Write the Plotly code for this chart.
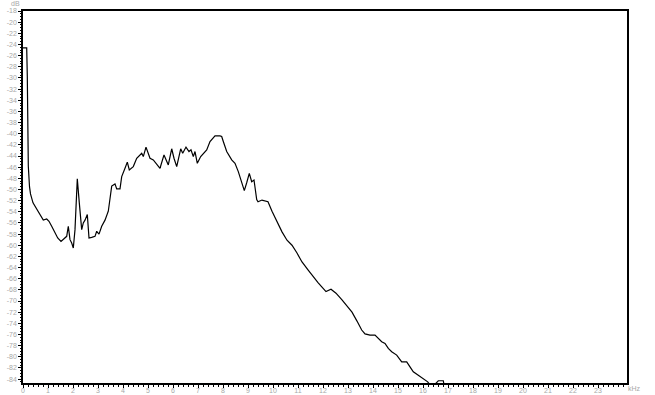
import plotly.graph_objects as go

freq_khz = [0.00, 0.148, 0.172, 0.188, 0.212, 0.26, 0.30, 0.40, 0.548, 0.68, 0.812, 0.948, 1.04, 1.148,
            1.28, 1.388, 1.52, 1.652, 1.748, 1.812, 1.88, 1.948, 2.012, 2.08, 2.148, 2.172, 2.252, 2.348,
            2.412, 2.48, 2.572, 2.64, 2.748, 2.88, 2.948, 3.04, 3.148, 3.28, 3.412, 3.48, 3.548, 3.68,
            3.748, 3.88, 3.948, 4.08, 4.172, 4.252, 4.412, 4.548, 4.748, 4.812, 4.92, 5.08, 5.212, 5.48,
            5.64, 5.812, 5.948, 6.04, 6.148, 6.308, 6.388, 6.52, 6.64, 6.72, 6.812, 6.88, 6.972, 7.108,
            7.212, 7.348, 7.48, 7.68, 7.88, 7.948, 8.012, 8.148, 8.348, 8.48, 8.612, 8.748, 8.852, 8.948,
            9.052, 9.148, 9.24, 9.348, 9.40, 9.56, 9.80, 9.96, 10.16, 10.36, 10.56, 10.76, 10.96, 11.16,
            11.40, 11.60, 11.80, 11.96, 12.12, 12.32, 12.52, 12.76, 12.96, 13.16, 13.36, 13.548, 13.68,
            13.88, 14.08, 14.212, 14.348, 14.48, 14.612, 14.748, 14.948, 15.148, 15.348, 15.48, 15.612,
            15.812, 16.012, 16.188, 16.36, 16.56, 16.612, 16.812, 16.88]

level_db = [-24.6, -24.6, -29.7, -39.3, -45.8, -49.5, -50.8, -52.4, -53.6, -54.5, -55.5, -55.3, -55.7, -56.6,
            -57.8, -58.7, -59.3, -58.8, -58.4, -56.6, -59.0, -59.6, -60.5, -57.2, -49.5, -48.1, -52.4, -57.2,
            -56.0, -55.5, -54.5, -58.7, -58.6, -58.4, -57.5, -58.0, -56.6, -55.5, -53.9, -51.8, -49.4, -49.0,
            -49.9, -49.9, -47.7, -46.2, -45.1, -46.5, -45.9, -44.4, -43.5, -44.1, -42.4, -44.4, -44.7, -46.2,
            -43.8, -45.6, -42.7, -44.4, -45.9, -42.7, -43.5, -42.4, -43.2, -42.9, -44.1, -43.2, -45.3, -44.1,
            -43.5, -42.9, -41.4, -40.4, -40.4, -40.5, -41.4, -43.2, -44.7, -45.3, -46.8, -48.6, -50.2, -48.8,
            -47.1, -48.6, -48.3, -51.8, -52.2, -51.9, -52.2, -53.9, -55.8, -57.6, -59.1, -60.0, -61.4, -63.0,
            -64.4, -65.6, -66.7, -67.5, -68.3, -67.9, -68.6, -69.8, -71.0, -72.0, -73.6, -75.2, -75.9,
            -76.1, -76.1, -76.7, -77.3, -77.6, -78.5, -79.1, -79.7, -80.9, -80.9, -81.8, -82.7,
            -83.3, -83.9, -84.5, -85.5, -84.6, -84.3, -84.3, -86.0]

x_ticks = list(range(0, 24))
x_tick_labels = [str(v) for v in x_ticks]
y_ticks = list(range(-18, -85, -2))
y_tick_labels = [str(v) for v in y_ticks]

fig = go.Figure()
fig.add_trace(go.Scatter(x=freq_khz, y=level_db, mode="lines",
                         line=dict(color="black", width=1.2), hoverinfo="skip"))

tick_font = dict(family="Liberation Sans, Arial, sans-serif", size=7, color="#a8a8a8")

fig.update_layout(
    width=655, height=395,
    margin=dict(l=23, r=28, t=11, b=12, autoexpand=False),
    paper_bgcolor="white", plot_bgcolor="white",
    showlegend=False,
    xaxis=dict(range=[0, 24.16], tickvals=x_ticks, ticktext=x_tick_labels, automargin=False,
               showgrid=False, zeroline=False, showline=True, linecolor="black",
               linewidth=1.6, mirror=True, ticks="outside", ticklen=3, tickcolor="black",
               tickwidth=1, tickfont=tick_font, ticklabelstandoff=-3,
               minor=dict(dtick=0.2, ticks="outside", ticklen=2, tickcolor="black", showgrid=False)),
    yaxis=dict(range=[-84.7, -18], tickvals=y_ticks, ticktext=y_tick_labels, automargin=False,
               showgrid=False, zeroline=False, showline=True, linecolor="black",
               linewidth=1.6, mirror=True, ticks="outside", ticklen=3, tickcolor="black",
               tickwidth=1, tickfont=tick_font, ticklabelstandoff=0,
               minor=dict(dtick=0.5, ticks="outside", ticklen=1.5, tickcolor="black", showgrid=False)),
    annotations=[
        dict(text="dB", xref="paper", yref="paper", x=-0.0116, y=1.019,
             xanchor="center", yanchor="middle", showarrow=False, font=tick_font),
        dict(text="kHz", xref="paper", yref="paper", x=1.0116, y=-0.016,
             xanchor="center", yanchor="middle", showarrow=False, font=tick_font),
    ],
)

fig.write_html("out.html")
